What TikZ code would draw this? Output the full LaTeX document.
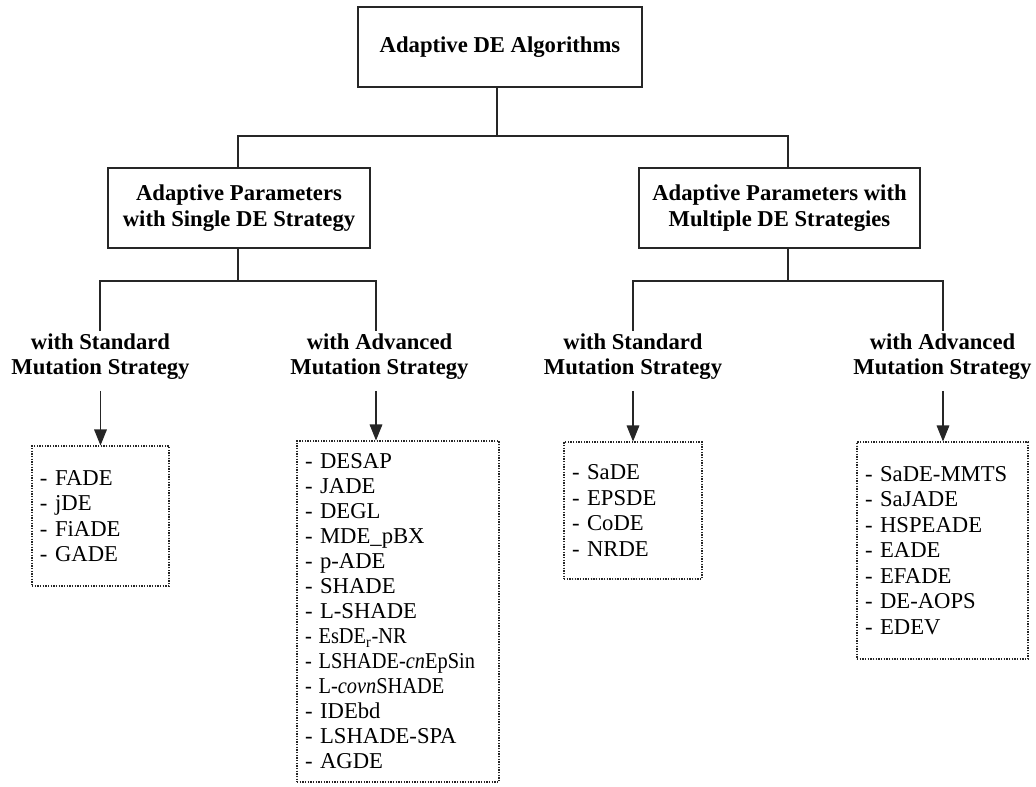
\documentclass[tikz,border=0pt]{standalone}
\usepackage{fontspec}
\setmainfont{Liberation Serif}
\usetikzlibrary{arrows.meta}

% condensed list entry
\newcommand{\tightentry}[1]{\scalebox{0.9}[1]{#1}}

\begin{document}
\begin{tikzpicture}[x=0.75pt, y=-0.75pt,
  line/.style={draw=black!85, line width=0.8pt},
  arrowline/.style={line, -{Triangle[length=12pt,width=9.5pt]}, shorten <=6pt},
  headbox/.style={draw=black!85, line width=0.8pt, rectangle, align=center,
    font=\bfseries\fontsize{17}{19.5}\selectfont, inner sep=0pt},
  branchlabel/.style={align=center, font=\bfseries\fontsize{17}{18.75}\selectfont, inner sep=2pt},
  listbox/.style={draw=black!85, line width=0.8pt, dash pattern=on 1.1pt off 0.9pt,
    rectangle, align=left, inner xsep=6pt, inner ysep=0pt,
    font=\fontsize{17}{19.1}\selectfont}
]
\useasboundingbox (0,0) rectangle (1036,786);

% root and first level
\node[headbox, minimum width=213pt, minimum height=60pt] (root) at (500,47) {Adaptive DE Algorithms};
\node[headbox, minimum width=196.5pt, minimum height=60pt] (single) at (239,208)
  {Adaptive Parameters\\with Single DE Strategy};
\node[headbox, minimum width=210.75pt, minimum height=60pt] (multi) at (779.5,208)
  {Adaptive Parameters with\\Multiple DE Strategies};

% bus points
\coordinate (busTop) at (497,136);
\coordinate (cL) at (238,136);
\coordinate (cR) at (788,136);
\coordinate (bL) at (238,281);
\coordinate (bR) at (788,281);

\draw[line] (root.south -| busTop) -- (busTop);
\draw[line] (single.north -| cL) |- (cR) -- (multi.north -| cR);

% second level labels
\node[branchlabel] (stdA) at (100.5,357) {with Standard\\Mutation Strategy};
\node[branchlabel] (advA) at (379.5,357) {with Advanced\\Mutation Strategy};
\node[branchlabel] (stdB) at (633,357) {with Standard\\Mutation Strategy};
\node[branchlabel] (advB) at (942.5,357) {with Advanced\\Mutation Strategy};

\draw[line] (single.south -| bL) -- (bL);
\draw[line] (stdA.north -| 100,0) |- (bL) -| (advA.north -| 376,0);
\draw[line] (multi.south -| bR) -- (bR);
\draw[line] (stdB.north) |- (bR) -| (advB.north -| 943,0);

% algorithm lists
\node[listbox, text width=90.75pt, minimum height=105pt] (listA) at (100.5,516)
  {- FADE\\- jDE\\- FiADE\\- GADE};
\node[listbox, text width=139.5pt, minimum height=255.75pt,
      font=\fontsize{17}{18.75}\selectfont] (listB) at (398,611.5)
  {- DESAP\\- JADE\\- DEGL\\- MDE\_pBX\\- p-ADE\\- SHADE\\- L-SHADE\\
   \tightentry{- EsDE$_{\mathrm{r}}$-NR}\\
   \tightentry{- LSHADE-\textit{cn}EpSin}\\
   \tightentry{- L-\textit{covn}SHADE}\\- IDEbd\\- LSHADE-SPA\\- AGDE};
\node[listbox, text width=91.5pt, minimum height=102.75pt] (listC) at (633,510.5)
  {- SaDE\\- EPSDE\\- CoDE\\- NRDE};
\node[listbox, text width=116.25pt, minimum height=162.75pt] (listD) at (942.5,550.5)
  {- SaDE-MMTS\\- SaJADE\\- HSPEADE\\- EADE\\- EFADE\\- DE-AOPS\\- EDEV};

% arrows into lists
\draw[arrowline] (stdA.south -| listA.north) -- (listA.north);
\draw[arrowline] (advA.south -| 376,0) -- (listB.north -| 376,0);
\draw[arrowline] (stdB.south) -- (listC.north);
\draw[arrowline] (advB.south -| 943,0) -- (listD.north -| 943,0);
\end{tikzpicture}
\end{document}
